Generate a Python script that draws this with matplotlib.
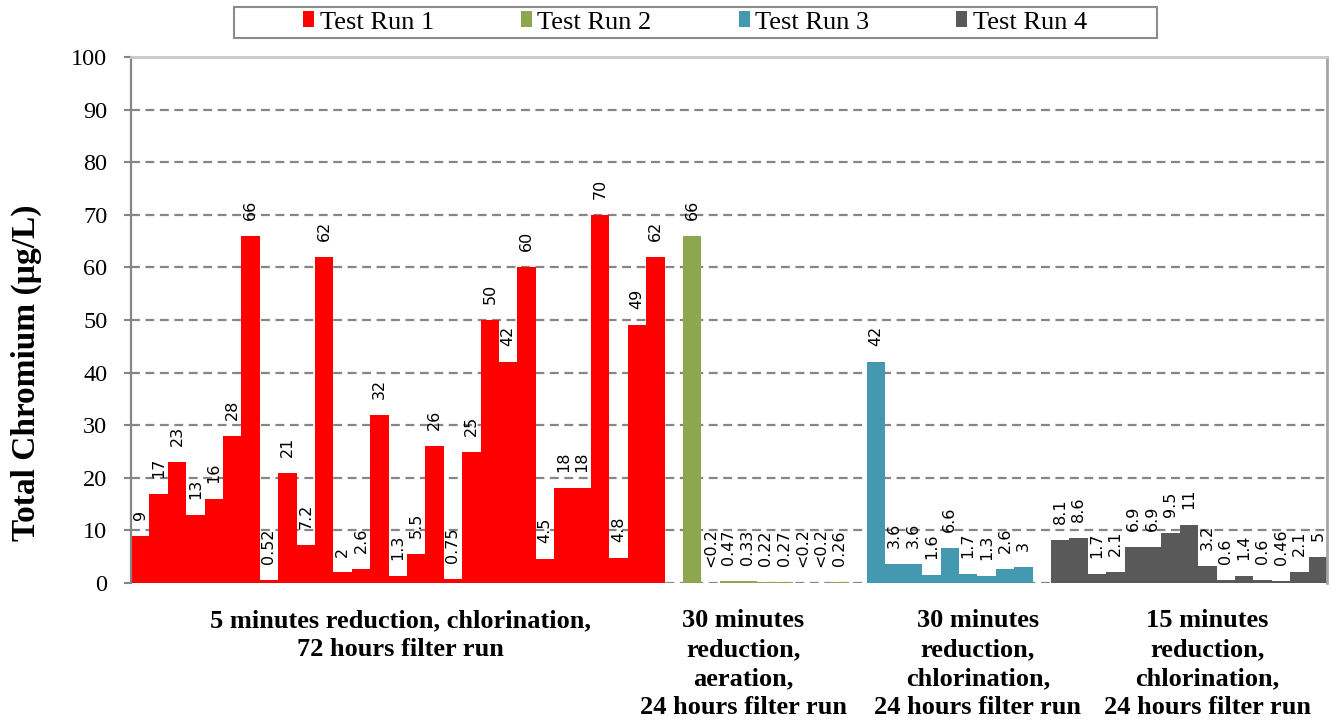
import numpy as np
import matplotlib
matplotlib.use("Agg")
import matplotlib.pyplot as plt
from matplotlib.patches import Rectangle

# data (one bar per sample)
run1 = [9, 17, 23, 13, 16, 28, 66, 0.52, 21, 7.2, 62, 2, 2.6, 32, 1.3, 5.5,
        26, 0.75, 25, 50, 42, 60, 4.5, 18, 18, 70, 4.8, 49, 62]
run2_labels = ["66", "<0.2", "0.47", "0.33", "0.22", "0.27", "<0.2", "<0.2", "0.26"]
run2 = [66, 0, 0.47, 0.33, 0.22, 0.27, 0, 0, 0.26]   # "<0.2" drawn as 0
run3 = [42, 3.6, 3.6, 1.6, 6.6, 1.7, 1.3, 2.6, 3]
run4 = [8.1, 8.6, 1.7, 2.1, 6.9, 6.9, 9.5, 11, 3.2, 0.6, 1.4, 0.6, 0.46, 2.1, 5]

series_names = ["Test Run 1", "Test Run 2", "Test Run 3", "Test Run 4"]
colors = ["#FF0000", "#8DA74E", "#4498AF", "#595959"]
group_labels = ["5 minutes reduction, chlorination,\n72 hours filter run",
                "30 minutes\nreduction,\naeration,\n24 hours filter run",
                "30 minutes\nreduction,\nchlorination,\n24 hours filter run",
                "15 minutes\nreduction,\nchlorination,\n24 hours filter run"]

values = [run1, run2, run3, run4]
labels = [["%g" % v for v in run1], run2_labels,
          ["%g" % v for v in run3], ["%g" % v for v in run4]]

serif = "Liberation Serif"

fig = plt.figure(figsize=(13.39, 7.25), dpi=100)
ax = fig.add_axes([131 / 1339, 1 - 583 / 725, 1196 / 1339, 526 / 725])

start = 0
for vals, labs, col, name in zip(values, labels, colors, series_names):
    x = start + np.arange(len(vals))
    ax.bar(x, vals, width=1.0, color=col, label=name, zorder=2)
    for xi, v, t in zip(x, vals, labs):
        ax.annotate(t, (xi, v), xytext=(0, 11.5), textcoords="offset points",
                    rotation=90, ha="center", va="bottom", fontsize=11.5,
                    family="DejaVu Sans")
    start += len(vals) + 1   # one empty slot between runs

ax.set_xlim(-0.5, start - 1.5)
ax.set_ylim(0, 100)
ax.set_yticks(np.arange(0, 101, 10))
ax.set_xticks([])
ax.set_axisbelow(True)
ax.yaxis.grid(True, color="#868686", linestyle=(0, (4, 2.5)), linewidth=1.6)

for lab in ax.get_yticklabels():
    lab.set_family(serif)
    lab.set_fontsize(17.5)
ax.tick_params(axis="y", direction="out", length=5, width=1.5,
               color="#868686", pad=12)

ax.spines["left"].set_color("#868686")
ax.spines["left"].set_linewidth(1.6)
ax.spines["bottom"].set_visible(False)
ax.spines["top"].set_color("#C8C8C8")
ax.spines["top"].set_linewidth(2)
ax.spines["right"].set_color("#A6A6A6")
ax.spines["right"].set_linewidth(2)

ax.set_ylabel("Total Chromium (µg/L)", family=serif, fontsize=24,
              fontweight="bold")
ax.yaxis.set_label_coords(-0.074, 0.40)

# group captions under the bars
label_x = [0.225, 0.512, 0.708, 0.900]
for gx, txt in zip(label_x, group_labels):
    ax.text(gx, -0.05, txt, transform=ax.transAxes, ha="center", va="top",
            family=serif, fontsize=19, fontweight="bold", linespacing=1.32)

# legend with its own frame on top
fig.add_artist(Rectangle((234 / 1339, 1 - 38 / 725), 923 / 1339, 31 / 725,
                         transform=fig.transFigure, fill=False,
                         edgecolor="#8C8C8C", linewidth=1.5))
fig.legend(loc="center", bbox_to_anchor=(695 / 1339, 1 - 22.5 / 725),
           ncol=4, frameon=False, prop={"family": serif, "size": 19},
           handlelength=0.42, handleheight=0.53, handletextpad=0.2,
           columnspacing=3.3, borderpad=0)

fig.savefig("out.png", dpi=100)
